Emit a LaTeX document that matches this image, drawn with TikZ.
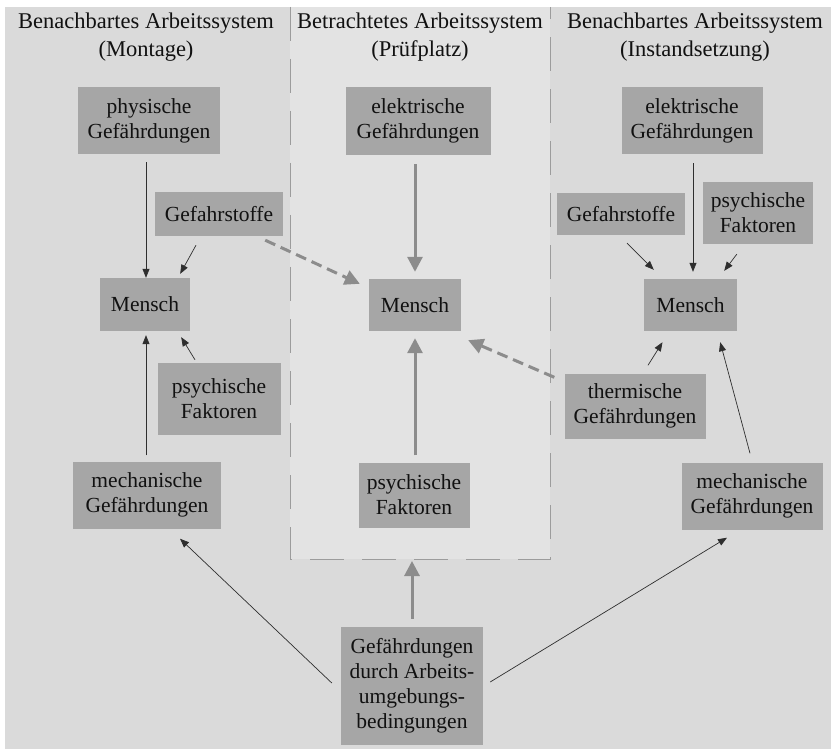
\documentclass[tikz,border=0pt]{standalone}
\usepackage{fontspec}
\setmainfont{Liberation Serif}
\usetikzlibrary{calc,arrows.meta}
\definecolor{bgc}{HTML}{DADADA}
\definecolor{panelc}{HTML}{E3E3E3}
\definecolor{boxc}{HTML}{A6A6A6}
\definecolor{thickc}{HTML}{8C8C8C}
\definecolor{bordc}{HTML}{9C9C9C}
\definecolor{thinc}{HTML}{2E2E2E}
\definecolor{txtc}{HTML}{111111}
\begin{document}
\begin{tikzpicture}[x=1pt,y=-1pt,
  box/.style={fill=boxc, text=txtc, align=center, inner sep=0pt, font=\fontsize{21.5}{25}\selectfont},
  heading/.style={text=txtc, align=center, inner sep=0pt, font=\fontsize{22.5}{28}\selectfont},
  thinarrow/.style={draw=thinc, line width=0.7pt, -{Triangle[length=9pt,width=7pt]}},
  thickarrow/.style={draw=thickc, line width=3pt, -{Triangle[length=15pt,width=15pt]}},
  dasharrow/.style={thickarrow, dash pattern=on 11pt off 6pt}]
\useasboundingbox (0,0) rectangle (831,749);
% backgrounds
\fill[bgc] (5,7) rectangle (831,749);
\fill[panelc] (290,7) rectangle (550,559);
\draw[bordc, line width=0.9pt, dash pattern=on 34pt off 18pt] (290,7) -- (290,559) -- (550,559) -- (550,7);
\coordinate (pb) at (412,559);
% headings
\node[heading] (hl) at (146,37) {Benachbartes Arbeitssystem\\(Montage)};
\node[heading] (hm) at (420,37) {Betrachtetes Arbeitssystem\\(Prüfplatz)};
\node[heading] (hr) at (695,37) {Benachbartes Arbeitssystem\\(Instandsetzung)};
% left column
\node[box, minimum width=142pt, minimum height=67pt] (lphys) at (149,120.5) {physische\\Gefährdungen};
\node[box, minimum width=128pt, minimum height=44pt] (lgef) at (219,214) {Gefahrstoffe};
\node[box, minimum width=90pt, minimum height=53pt] (lmensch) at (145,304.5) {Mensch};
\node[box, minimum width=123pt, minimum height=72pt] (lpsy) at (219,399) {psychische\\Faktoren};
\node[box, minimum width=148pt, minimum height=67pt] (lmech) at (147,495) {mechanische\\Gefährdungen};
% middle column
\node[box, minimum width=145pt, minimum height=68pt] (melek) at (418,121) {elektrische\\Gefährdungen};
\node[box, minimum width=92pt, minimum height=52pt] (mmensch) at (415,305) {Mensch};
\node[box, minimum width=111pt, minimum height=65pt] (mpsy) at (414,495) {psychische\\Faktoren};
\node[box, minimum width=142pt, minimum height=118pt] (mumg) at (412,686) {Gefährdungen\\durch Arbeits-\\umgebungs-\\bedingungen};
% right column
\node[box, minimum width=141pt, minimum height=67pt] (relek) at (692,120.5) {elektrische\\Gefährdungen};
\node[box, minimum width=128pt, minimum height=42pt] (rgef) at (621,214) {Gefahrstoffe};
\node[box, minimum width=110pt, minimum height=62pt] (rpsy) at (758,213) {psychische\\Faktoren};
\node[box, minimum width=93pt, minimum height=52pt] (rmensch) at (690.5,305) {Mensch};
\node[box, minimum width=141pt, minimum height=65pt] (rtherm) at (635,406) {thermische\\Gefährdungen};
\node[box, minimum width=141pt, minimum height=67pt] (rmech) at (752,496) {mechanische\\Gefährdungen};
% left arrows
\draw[thinarrow] ($(lmensch.north |- lphys.south)+(1,8)$) -- ($(lmensch.north)+(1,0)$);
\draw[thinarrow] ($(lgef.south)+(-23,9)$) -- ($(lmensch.north east)+(-10,-4)$);
\draw[thinarrow] ($(lpsy.north)+(-24,-3)$) -- ($(lmensch.south east)+(-9,6)$);
\draw[thinarrow] ($(lmensch.south |- lmech.north)+(1,-6)$) -- ($(lmensch.south)+(1,4)$);
\draw[dasharrow] ($(lgef.south east)+(-18,4)$) -- ($(mmensch.north west)+(-9,5)$);
% middle arrows
\draw[thickarrow] ($(mmensch.north |- melek.south)+(0,9)$) -- ($(mmensch.north)+(0,-7)$);
\draw[thickarrow] ($(mmensch.south |- mpsy.north)+(0,-7)$) -- ($(mmensch.south)+(0,7)$);
\draw[thickarrow] ($(mumg.north)+(0,-8)$) -- ($(pb)+(0,2)$);
\draw[dasharrow] ($(rtherm.north west)+(-10,4)$) -- ($(mmensch.south east)+(7,9)$);
% right arrows
\draw[thinarrow] ($(rgef.south)+(6,8)$) -- ($(rmensch.north west)+(10,-9)$);
\draw[thinarrow] ($(relek.south)+(1,9)$) -- ($(relek.south |- rmensch.north)+(1,-7)$);
\draw[thinarrow] ($(rpsy.south west)+(34,10)$) -- ($(rmensch.north east)+(-13,-8)$);
\draw[thinarrow] ($(rtherm.north)+(13,-8)$) -- ($(rmensch.south)+(-28,11)$);
\draw[thinarrow] ($(rmech.north)+(-2,-9)$) -- ($(rmensch.south east)+(-17,11)$);
% bottom arrows
\draw[thinarrow] ($(mumg.west)+(-9,-3)$) -- ($(lmech.south)+(33,10)$);
\draw[thinarrow] ($(mumg.east)+(7,-4)$) -- ($(rmech.south)+(-25,8)$);
\end{tikzpicture}
\end{document}
